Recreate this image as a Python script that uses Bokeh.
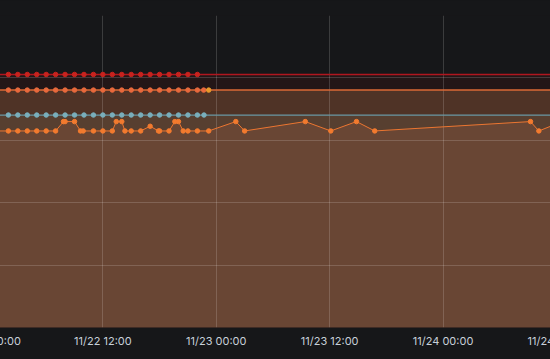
import pandas as pd
from bokeh.plotting import figure
from bokeh.models import FixedTicker, CustomJSTickFormatter, GlobalInlineStyleSheet, Range1d
from bokeh.embed import file_html
from bokeh.resources import INLINE

# ---------------- data ----------------
hourly = [f"2023-11-22 {h:02d}:00" for h in range(2, 23)]

red_times = ["2023-11-22 00:00"] + hourly + ["2023-11-24 14:00"]
red_values = [81.1] + [81.1] * 21 + [81.1]
red_marked = hourly

orange_times = ["2023-11-22 00:00"] + hourly + ["2023-11-22 22:40", "2023-11-24 14:00"]
orange_values = [76.1] + [76.1] * 22 + [76.1]
orange_marked = hourly + ["2023-11-22 22:40"]

yellow_times = ["2023-11-22 23:12"]
yellow_values = [76.1]

teal_times = ["2023-11-22 00:00"] + hourly + ["2023-11-22 22:42", "2023-11-24 14:00"]
teal_values = [68.1] + [68.1] * 22 + [68.1]
teal_marked = hourly + ["2023-11-22 22:42"]

jag_times = [
    "2023-11-22 00:00",
    "2023-11-22 02:00", "2023-11-22 03:00", "2023-11-22 04:00", "2023-11-22 05:00",
    "2023-11-22 06:00", "2023-11-22 07:00", "2023-11-22 07:50", "2023-11-22 08:00",
    "2023-11-22 09:00", "2023-11-22 09:38", "2023-11-22 09:55", "2023-11-22 11:00",
    "2023-11-22 12:00", "2023-11-22 13:00", "2023-11-22 13:25", "2023-11-22 14:00",
    "2023-11-22 14:20", "2023-11-22 15:00", "2023-11-22 16:00", "2023-11-22 17:00",
    "2023-11-22 17:53", "2023-11-22 18:00", "2023-11-22 19:00", "2023-11-22 19:37",
    "2023-11-22 20:00", "2023-11-22 20:30", "2023-11-22 21:00", "2023-11-22 22:00",
    "2023-11-22 23:12", "2023-11-23 02:04", "2023-11-23 03:00", "2023-11-23 09:25",
    "2023-11-23 12:07", "2023-11-23 14:50", "2023-11-23 16:46", "2023-11-24 09:15",
    "2023-11-24 10:08", "2023-11-24 12:37",
]
jag_values = [
    63,
    63, 63, 63, 63, 63, 63, 66, 66, 66, 63, 63, 63, 63, 63, 66, 66, 63, 63, 63, 64.5,
    63, 63, 63, 66, 66, 63, 63, 63, 63, 66, 63, 66, 63, 66, 63, 66, 63, 66,
]
jag_marked = jag_times[1:-1]

tick_times = ["2023-11-22 00:00", "2023-11-22 12:00", "2023-11-23 00:00",
              "2023-11-23 12:00", "2023-11-24 00:00", "2023-11-24 12:00"]
tick_labels = ["11/22 00:00", "11/22 12:00", "11/23 00:00",
               "11/23 12:00", "11/24 00:00", "11/24 12:00"]
x_start, x_end = "2023-11-22 01:10", "2023-11-24 11:22"
y_ticks = [0, 20, 40, 60, 80, 100]
y_min, y_max = 0, 100

# ---------------- style ----------------
BG = "#161719"
TEXT = "#c7d0d9"
FONT = "Inter"
VIEW_W = 550      # visible window width
PAD = 40          # extra canvas on each side, cropped by the window

def ts(lst):
    return list(pd.to_datetime(lst))

xs, xe = pd.Timestamp(x_start), pd.Timestamp(x_end)
span = xe - xs
pad_t = span * (PAD / VIEW_W)

p = figure(width=VIEW_W + 2 * PAD, height=359, x_axis_type="datetime", output_backend="svg",
           toolbar_location=None, y_axis_location=None,
           x_range=Range1d(xs - pad_t, xe + pad_t),
           y_range=Range1d(y_min, y_max),
           min_border_left=0, min_border_right=0, min_border_top=15, min_border_bottom=32)
p.background_fill_color = BG
p.border_fill_color = BG
p.outline_line_color = None
p.styles = {"margin-left": f"-{PAD}px"}
p.stylesheets = [GlobalInlineStyleSheet(
    css="html,body{margin:0;padding:0;background:#161719;overflow:hidden}")]

# fills (opaque, layered like the translucent original)
for times, vals, col in [(red_times, red_values, "#231617"),
                         (orange_times, orange_values, "#4f3326"),
                         (teal_times, teal_values, "#573f30"),
                         (jag_times, jag_values, "#694634")]:
    r = p.varea(x=ts(times), y1=0, y2=vals, fill_color=col, fill_alpha=1)
    r.level = "image"

# grid
tick_ms = [pd.Timestamp(t).value // 10**6 for t in tick_times]
p.xaxis.ticker = FixedTicker(ticks=tick_ms)
p.xgrid.ticker = FixedTicker(ticks=tick_ms)
p.ygrid.ticker = FixedTicker(ticks=y_ticks)
for g in (p.xgrid, p.ygrid):
    g.grid_line_color = "#ffffff"
    g.grid_line_alpha = 0.16
    g.grid_line_width = 1
    g.level = "underlay"

# lines + markers
series = [
    (red_times, red_values, red_marked, "#b0161f", "#c8231e", 1.5),
    (orange_times, orange_values, orange_marked, "#dc6a36", "#e8693c", 1.5),
    (teal_times, teal_values, teal_marked, "#6a98a3", "#79aebb", 1.2),
    (jag_times, jag_values, jag_marked, "#ec7631", "#f27a2e", 1.0),
]
for times, vals, marked, lc, mc, lw in series:
    p.line(ts(times), vals, line_color=lc, line_width=lw)
    mv = [v for t, v in zip(times, vals) if t in marked]
    p.scatter(ts(marked), mv, size=4.5, fill_color=mc, line_color=mc)
p.scatter(ts(yellow_times), yellow_values, size=4.5, fill_color="#e8992a", line_color="#e8992a")

# x axis
label_map = {str(ms): lab for ms, lab in zip(tick_ms, tick_labels)}
p.xaxis.formatter = CustomJSTickFormatter(args=dict(m=label_map), code="return m[String(tick)] || '';")
p.xaxis.axis_line_color = None
p.xaxis.major_tick_line_color = None
p.xaxis.minor_tick_line_color = None
p.xaxis.major_tick_out = 0
p.xaxis.major_tick_in = 0
p.xaxis.minor_tick_out = 0
p.xaxis.major_label_text_color = TEXT
p.xaxis.major_label_text_font = FONT
p.xaxis.major_label_text_font_size = "11px"
p.xaxis.major_label_standoff = 6

open("out.html", "w").write(file_html(p, INLINE))
